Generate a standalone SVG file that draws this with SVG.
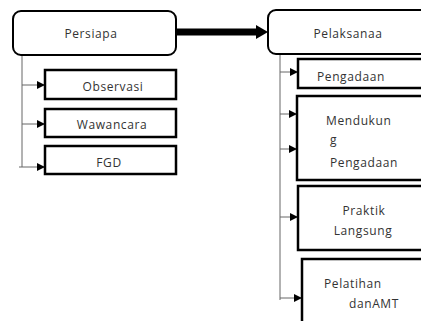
<svg xmlns="http://www.w3.org/2000/svg" width="421" height="321" viewBox="0 0 421 321">
<style>
.box{fill:#fff;stroke:#000;stroke-width:2.5}
.rbox{fill:#fff;stroke:#000;stroke-width:2}
.t{font-family:"Open Sans","Noto Sans",sans-serif;font-size:12px;fill:#333;letter-spacing:0.6px}
.c{fill:none;stroke:#666;stroke-width:1}
</style>
<defs>
<marker id="ah" viewBox="0 0 8 8" refX="8" refY="4" markerWidth="8" markerHeight="8" markerUnits="userSpaceOnUse" orient="auto">
<path d="M0,0L8,4L0,8z" fill="#000"/>
</marker>
</defs>
<rect width="421" height="321" fill="#fff"/>
<g id="connectors">
<path class="c" d="M22,55V167"/>
<path class="c" d="M22,85H45" marker-end="url(#ah)"/>
<path class="c" d="M22,124H45" marker-end="url(#ah)"/>
<path class="c" d="M19,167H45" marker-end="url(#ah)"/>
<path class="c" d="M280,54V300"/>
<path class="c" d="M280,72H298" marker-end="url(#ah)"/>
<path class="c" d="M280,114H297" marker-end="url(#ah)"/>
<path class="c" d="M280,149H297" marker-end="url(#ah)"/>
<path class="c" d="M280,217H298" marker-end="url(#ah)"/>
<path class="c" d="M280,298H302" marker-end="url(#ah)"/>
<path d="M176,32H258" stroke="#000" stroke-width="7" fill="none"/>
<path d="M256,25L268,32L256,39z" fill="#000"/>
</g>
<g id="persiapa">
<rect class="rbox" x="13" y="11" width="163" height="44" rx="8"/>
<text class="t" x="91" y="38" text-anchor="middle">Persiapa</text>
</g>
<g id="observasi">
<rect class="box" x="45" y="70" width="131" height="29"/>
<text class="t" x="113" y="91" text-anchor="middle">Observasi</text>
</g>
<g id="wawancara">
<rect class="box" x="45" y="109" width="131" height="28"/>
<text class="t" x="112" y="129" text-anchor="middle">Wawancara</text>
</g>
<g id="fgd">
<rect class="box" x="45" y="146" width="131" height="28"/>
<text class="t" x="109" y="167" text-anchor="middle">FGD</text>
</g>
<g id="pelaksanaa">
<rect class="rbox" x="268" y="10" width="170" height="44" rx="8"/>
<text class="t" x="348" y="38" text-anchor="middle">Pelaksanaa</text>
</g>
<g id="pengadaan">
<rect class="box" x="298" y="59" width="140" height="29"/>
<text class="t" x="317" y="81">Pengadaan</text>
</g>
<g id="mendukung">
<rect class="box" x="297" y="96" width="140" height="84"/>
<text class="t" x="326" y="125">Mendukun</text>
<text class="t" x="330" y="144">g</text>
<text class="t" x="330" y="167">Pengadaan</text>
</g>
<g id="praktik">
<rect class="box" x="298" y="186" width="140" height="64"/>
<text class="t" x="364" y="215" text-anchor="middle">Praktik</text>
<text class="t" x="363" y="235" text-anchor="middle">Langsung</text>
</g>
<g id="pelatihan">
<rect class="box" x="302" y="259" width="140" height="80"/>
<text class="t" x="324" y="288">Pelatihan</text>
<text class="t" x="349" y="308">danAMT</text>
</g>
</svg>
